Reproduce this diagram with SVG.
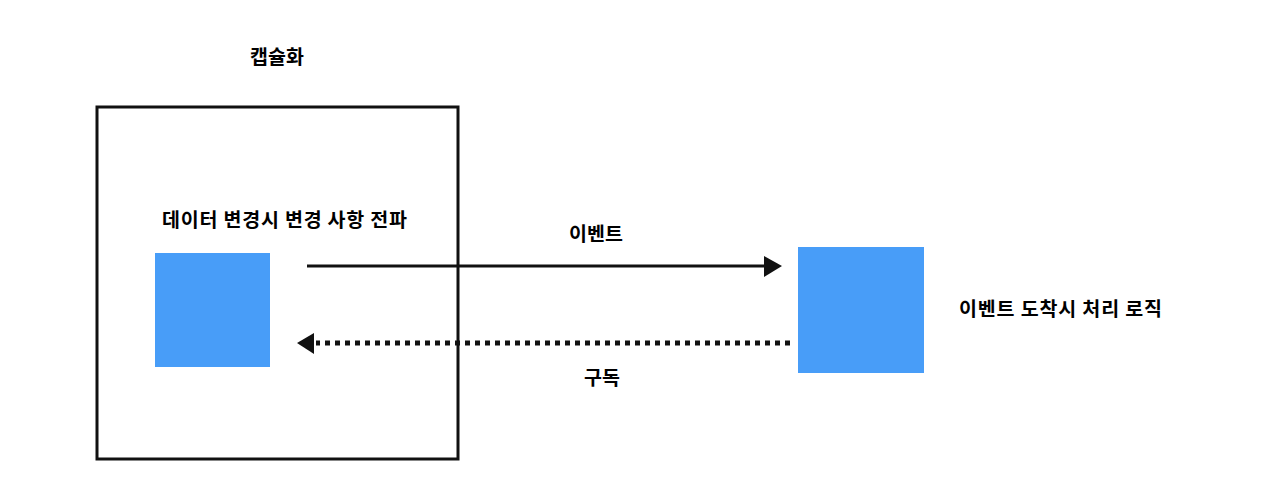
<svg xmlns="http://www.w3.org/2000/svg" width="1280" height="488" viewBox="0 0 1280 488">
<style>
text{font-family:"Noto Sans CJK KR","Noto Sans",sans-serif;font-weight:bold;font-size:19.5px;fill:#000}
.blue{fill:#489df8}
.ln{stroke:#111;fill:none;stroke-width:3}
</style>
<rect width="1280" height="488" fill="#fff"/>
<g id="encap">
<text x="277" y="64" text-anchor="middle">캡슐화</text>
<rect class="ln" x="97" y="107" width="361" height="352"/>
</g>
<g id="publisher">
<text x="162" y="227" textLength="245">데이터 변경시 변경 사항 전파</text>
<rect class="blue" x="155" y="253" width="115" height="114"/>
</g>
<g id="subscriber">
<rect class="blue" x="798" y="247" width="126" height="126"/>
<text x="959" y="316" textLength="203">이벤트 도착시 처리 로직</text>
</g>
<g id="connectors">
<line class="ln" x1="307" y1="266" x2="764" y2="266"/>
<path d="M764,256 L782,266 L764,277 z" fill="#111"/>
<line x1="790" y1="343" x2="316" y2="343" stroke="#111" stroke-width="5" stroke-dasharray="5 5"/>
<path d="M314,333 L297,343 L314,354 z" fill="#111"/>
<text x="596" y="241" text-anchor="middle">이벤트</text>
<text x="602" y="385" text-anchor="middle">구독</text>
</g>
</svg>
